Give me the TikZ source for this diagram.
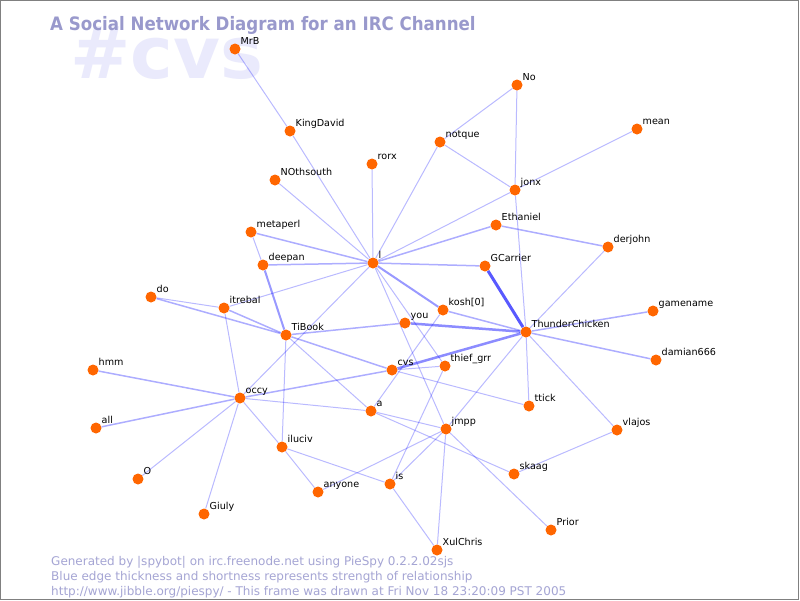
\documentclass[tikz,border=0pt]{standalone}
\usepackage{fontspec}
\setmainfont{DejaVu Sans}
\definecolor{dotc}{RGB}{255,102,0}
\definecolor{titlec}{RGB}{153,153,204}
\definecolor{footc}{RGB}{165,165,212}
\definecolor{wmc}{RGB}{234,234,252}
\definecolor{framec}{RGB}{128,128,128}
\pgfdeclarelayer{wm}
\pgfdeclarelayer{edges}
\pgfsetlayers{wm,edges,main}
\newcommand\pn[4]{\node[dot] (#1) at (#2,#3) {}; \node[lbl] (#1-t) at (#2,#3) {#4};}
\begin{document}
\begin{tikzpicture}[x=1pt,y=-1pt,
  dot/.style={circle,fill=dotc,draw=none,minimum size=11pt,inner sep=0pt},
  lbl/.style={anchor=base west,inner sep=0pt,font=\fontsize{9.6}{11}\selectfont,xshift=5.5pt,yshift=4.5pt},
  w1/.style={draw=blue,draw opacity=0.27,line width=1pt},
  w2/.style={draw=blue,draw opacity=0.32,line width=1.5pt},
  w3/.style={draw=blue,draw opacity=0.4,line width=2pt},
  w4/.style={draw=blue,draw opacity=0.45,line width=2.5pt},
  w5/.style={draw=blue,draw opacity=0.65,line width=3pt},
  txt/.style={anchor=base west,inner sep=0pt}]
\useasboundingbox (0,0) rectangle (800,600);
\begin{pgfonlayer}{wm}
\fill[white] (0,0) rectangle (800,600);
\node[txt,text=wmc] (wmark) at (70,78) {\fontsize{72}{74}\selectfont\bfseries \#cvs};
\end{pgfonlayer}
\draw[framec,line width=1pt] (0.5,0.5) rectangle (798.5,599.5);

% nodes
\pn{MrB}{235}{49}{MrB}
\pn{KingDavid}{290}{131}{KingDavid}
\pn{NOthsouth}{275}{180}{NOthsouth}
\pn{rorx}{372}{164}{rorx}
\pn{metaperl}{251}{232}{metaperl}
\pn{deepan}{263}{265}{deepan}
\pn{l}{373}{263}{l}
\pn{notque}{440}{142}{notque}
\pn{No}{517}{85}{No}
\pn{mean}{637}{129}{mean}
\pn{jonx}{515}{190}{jonx}
\pn{Ethaniel}{496}{225}{Ethaniel}
\pn{derjohn}{608}{247}{derjohn}
\pn{GCarrier}{485}{266}{GCarrier}
\pn{kosh}{443}{310}{kosh[0]}
\pn{you}{405}{323}{you}
\pn{TC}{526}{332}{ThunderChicken}
\pn{gamename}{653}{311}{gamename}
\pn{damian}{656}{360}{damian666}
\pn{TiBook}{286}{335}{TiBook}
\pn{itrebal}{224}{308}{itrebal}
\pn{do}{151}{297}{do}
\pn{hmm}{93}{370}{hmm}
\pn{occy}{240}{398}{occy}
\pn{all}{96}{428}{all}
\pn{O}{138}{479}{O}
\pn{Giuly}{204}{514}{Giuly}
\pn{iluciv}{282}{447}{iluciv}
\pn{anyone}{318}{492}{anyone}
\pn{is}{390}{484}{is}
\pn{a}{371}{411}{a}
\pn{cvs}{392}{370}{cvs}
\pn{thief}{445}{366}{thief\_grr}
\pn{ttick}{529}{406}{ttick}
\pn{jmpp}{446}{429}{jmpp}
\pn{skaag}{514}{474}{skaag}
\pn{vlajos}{617}{430}{vlajos}
\pn{Prior}{551}{530}{Prior}
\pn{XulChris}{437}{550}{XulChris}

% texts
\node[txt,text=titlec] (title) at (50,30) {\scalebox{0.9}[1]{\fontsize{18.5}{20}\selectfont\bfseries A Social Network Diagram for an IRC Channel}};
\node[txt,text=footc,font=\fontsize{12}{14}\selectfont] (f1) at (51,565) {Generated by |spybot| on irc.freenode.net using PieSpy 0.2.2.02sjs};
\node[txt,text=footc,font=\fontsize{12}{14}\selectfont] (f2) at (51,580) {Blue edge thickness and shortness represents strength of relationship};
\node[txt,text=footc,font=\fontsize{12}{14}\selectfont] (f3) at (51,595) {http://www.jibble.org/piespy/ - This frame was drawn at Fri Nov 18 23:20:09 PST 2005};

\begin{pgfonlayer}{edges}
\draw[w1] (MrB) -- (KingDavid);
\draw[w1] (KingDavid) -- (l);
\draw[w1] (NOthsouth) -- (l);
\draw[w1] (rorx) -- (l);
\draw[w2] (metaperl) -- (l);
\draw[w1] (metaperl) -- (deepan);
\draw[w2] (deepan) -- (l);
\draw[w3] (deepan) -- (TiBook);
\draw[w1] (notque) -- (l);
\draw[w1] (notque) -- (No);
\draw[w1] (notque) -- (jonx);
\draw[w1] (No) -- (jonx);
\draw[w1] (mean) -- (jonx);
\draw[w1] (jonx) -- (l);
\draw[w1] (jonx) -- (TC);
\draw[w2] (Ethaniel) -- (l);
\draw[w2] (Ethaniel) -- (derjohn);
\draw[w1] (derjohn) -- (TC);
\draw[w2] (GCarrier) -- (l);
\draw[w5] (GCarrier) -- (TC);
\draw[w3] (l) -- (kosh);
\draw[w2] (kosh) -- (TC);
\draw[w1] (kosh) -- (a);
\draw[w1] (l) -- (itrebal);
\draw[w1] (l) -- (occy);
\draw[w1] (l) -- (jmpp);
\draw[w1] (l) -- (thief);
\draw[w4] (you) -- (TC);
\draw[w2] (you) -- (TiBook);
\draw[w4] (cvs) -- (TC);
\draw[w1] (cvs) -- (thief);
\draw[w2] (cvs) -- (occy);
\draw[w1] (cvs) -- (ttick);
\draw[w2] (TiBook) -- (cvs);
\draw[w1] (TiBook) -- (a);
\draw[w1] (TiBook) -- (iluciv);
\draw[w1] (do) -- (itrebal);
\draw[w2] (do) -- (TiBook);
\draw[w2] (itrebal) -- (TiBook);
\draw[w1] (itrebal) -- (occy);
\draw[w2] (hmm) -- (occy);
\draw[w2] (all) -- (occy);
\draw[w1] (O) -- (occy);
\draw[w1] (Giuly) -- (occy);
\draw[w1] (occy) -- (iluciv);
\draw[w1] (occy) -- (a);
\draw[w1] (iluciv) -- (anyone);
\draw[w1] (iluciv) -- (is);
\draw[w1] (anyone) -- (jmpp);
\draw[w1] (is) -- (jmpp);
\draw[w1] (is) -- (XulChris);
\draw[w1] (is) -- (thief);
\draw[w1] (a) -- (jmpp);
\draw[w1] (a) -- (skaag);
\draw[w1] (jmpp) -- (TC);
\draw[w1] (jmpp) -- (XulChris);
\draw[w1] (jmpp) -- (Prior);
\draw[w1] (skaag) -- (vlajos);
\draw[w1] (vlajos) -- (TC);
\draw[w1] (ttick) -- (TC);
\draw[w2] (gamename) -- (TC);
\draw[w2] (damian) -- (TC);
\end{pgfonlayer}
\end{tikzpicture}
\end{document}
